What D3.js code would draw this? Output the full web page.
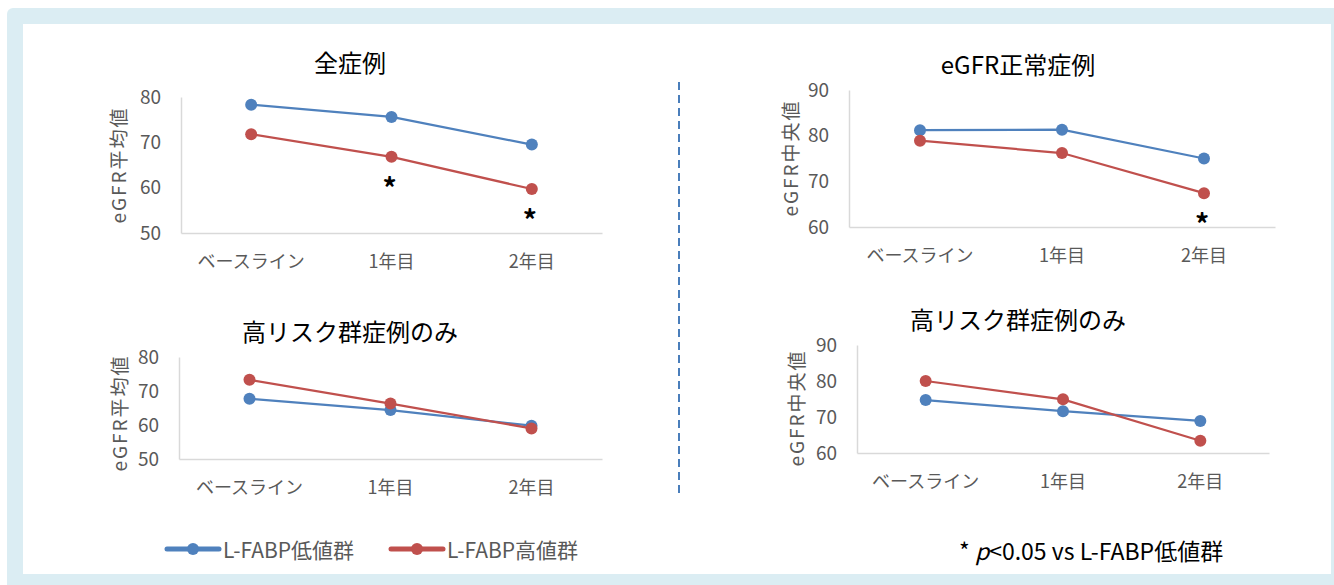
<!DOCTYPE html>
<html>
<head>
<meta charset="utf-8">
<script src="https://cdn.jsdelivr.net/npm/d3@7"></script>
<style>
  body { margin: 0; background: #fff; }
  svg { display: block; font-family: "Noto Sans CJK JP", "Noto Sans", sans-serif; }
</style>
</head>
<body>
<div id="container"></div>
<script>
// categories and values
var categories = ["ベースライン", "1年目", "2年目"];

var allLow = [78.3, 75.6, 69.5];      // 全症例, 平均値
var allHigh = [71.8, 66.8, 59.7];
var normalLow = [81.2, 81.3, 75.0];   // eGFR正常症例, 中央値
var normalHigh = [78.9, 76.2, 67.4];
var riskMeanLow = [67.7, 64.4, 59.8]; // 高リスク群, 平均値
var riskMeanHigh = [73.3, 66.3, 59.0];
var riskMedLow = [74.7, 71.6, 68.9];  // 高リスク群, 中央値
var riskMedHigh = [80.0, 74.9, 63.4];

var ticksMean = [50, 60, 70, 80];
var ticksMedian = [60, 70, 80, 90];

var sigAll = ["1年目", "2年目"];
var sigNormal = ["2年目"];

var legendLabels = ["L-FABP低値群", "L-FABP高値群"];
var colors = ["#4f81bd", "#c0504d"];

var width = 1334, height = 585;

var svg = d3.select("#container").append("svg")
    .attr("width", width)
    .attr("height", height);

// frame
svg.append("rect")
    .attr("x", 7).attr("y", 8)
    .attr("width", width).attr("height", height)
    .attr("rx", 6)
    .attr("fill", "#dbedf3");
svg.append("rect")
    .attr("x", 23).attr("y", 24)
    .attr("width", 1308).attr("height", 550)
    .attr("fill", "#fff");

// divider
svg.append("line")
    .attr("x1", 679).attr("x2", 679)
    .attr("y1", 82).attr("y2", 495)
    .attr("stroke", "#4a7ebb")
    .attr("stroke-width", 2)
    .attr("stroke-dasharray", "8,5");

function drawPanel(p) {
    var x = d3.scaleBand().domain(categories).range([p.left, p.right]);
    var y = d3.scaleLinear().domain(d3.extent(p.ticks)).range([p.bottom, p.top]);

    var g = svg.append("g");

    g.append("text")
        .attr("x", p.titleX).attr("y", p.titleY)
        .attr("text-anchor", "middle")
        .attr("font-size", 24)
        .attr("fill", "#000")
        .text(p.title);

    var yAxis = d3.axisLeft(y).tickValues(p.ticks).tickSize(0).tickPadding(20);
    var ya = g.append("g").attr("transform", "translate(" + p.left + ",0)").call(yAxis);
    ya.select(".domain").attr("stroke", "#d9d9d9").attr("stroke-width", 1.5);
    ya.selectAll("text").attr("font-size", 19).attr("fill", "#595959")
        .attr("font-family", "'Noto Sans CJK JP', sans-serif");

    var xAxis = d3.axisBottom(x).tickSize(0).tickPadding(22);
    var xa = g.append("g").attr("transform", "translate(0," + p.bottom + ")").call(xAxis);
    xa.select(".domain").attr("stroke", "#d9d9d9").attr("stroke-width", 1.5);
    xa.selectAll("text").attr("font-size", 18).attr("fill", "#595959")
        .attr("font-family", "'Noto Sans CJK JP', sans-serif");

    g.append("text")
        .attr("transform", "translate(" + p.labelX + "," + p.labelY + ") rotate(-90)")
        .attr("text-anchor", "middle")
        .attr("dominant-baseline", "central")
        .attr("font-size", 19)
        .attr("letter-spacing", 2)
        .attr("fill", "#595959")
        .text(p.label);

    var line = d3.line()
        .x(function(d, i) { return x(categories[i]) + x.bandwidth() / 2; })
        .y(function(d) { return y(d); });

    p.series.forEach(function(s, k) {
        g.append("path")
            .datum(s)
            .attr("fill", "none")
            .attr("stroke", colors[k])
            .attr("stroke-width", 2.25)
            .attr("d", line);
        g.selectAll(".pt" + k)
            .data(s)
            .enter().append("circle")
            .attr("r", 6)
            .attr("cx", function(d, i) { return x(categories[i]) + x.bandwidth() / 2; })
            .attr("cy", function(d) { return y(d); })
            .attr("fill", colors[k]);
    });

    var high = p.series[1];
    g.selectAll(".sig")
        .data(p.sig)
        .enter().append("text")
        .attr("x", function(c) { return x(c) + x.bandwidth() / 2 - 2; })
        .attr("y", function(c) { return y(high[categories.indexOf(c)]) + 42; })
        .attr("text-anchor", "middle")
        .attr("font-size", 28)
        .attr("font-weight", "bold")
        .attr("fill", "#000")
        .text("*");
}

drawPanel({
    title: "全症例", titleX: 350, titleY: 72,
    label: "eGFR平均値", labelX: 117, labelY: 165,
    left: 181, right: 602, top: 97, bottom: 233,
    ticks: ticksMean, series: [allLow, allHigh], sig: sigAll
});
drawPanel({
    title: "eGFR正常症例", titleX: 1018, titleY: 74,
    label: "eGFR中央値", labelX: 789, labelY: 158,
    left: 849, right: 1275, top: 90, bottom: 227,
    ticks: ticksMedian, series: [normalLow, normalHigh], sig: sigNormal
});
drawPanel({
    title: "高リスク群症例のみ", titleX: 350, titleY: 341,
    label: "eGFR平均値", labelX: 118, labelY: 413,
    left: 179, right: 602, top: 357, bottom: 459,
    ticks: ticksMean, series: [riskMeanLow, riskMeanHigh], sig: []
});
drawPanel({
    title: "高リスク群症例のみ", titleX: 1018, titleY: 329,
    label: "eGFR中央値", labelX: 795, labelY: 408,
    left: 857, right: 1269, top: 345, bottom: 453,
    ticks: ticksMedian, series: [riskMedLow, riskMedHigh], sig: []
});

// legend
var legendX = [167, 391];
legendLabels.forEach(function(lbl, k) {
    var lg = svg.append("g").attr("transform", "translate(" + legendX[k] + ",549)");
    lg.append("line").attr("x1", 0).attr("x2", 52).attr("y1", 0).attr("y2", 0)
        .attr("stroke", colors[k]).attr("stroke-width", 5).attr("stroke-linecap", "round");
    lg.append("circle").attr("cx", 26).attr("r", 6).attr("fill", colors[k]);
    lg.append("text").attr("x", 56).attr("y", 0)
        .attr("dominant-baseline", "central")
        .attr("font-size", 21).attr("fill", "#595959")
        .text(lbl);
});

var note = svg.append("text")
    .attr("x", 959).attr("y", 550)
    .attr("dominant-baseline", "central")
    .attr("font-size", 23).attr("fill", "#000");
note.append("tspan").text("* ");
note.append("tspan").attr("font-style", "italic").text("p");
note.append("tspan").text("<0.05 vs L-FABP低値群");
</script>
</body>
</html>
